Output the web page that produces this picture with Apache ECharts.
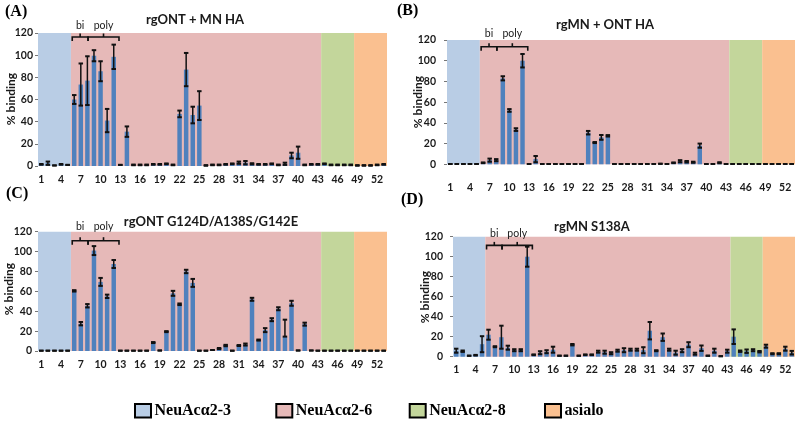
<!DOCTYPE html>
<html><head><meta charset="utf-8">
<script src="https://cdn.jsdelivr.net/npm/echarts@6/dist/echarts.min.js"></script>
<style>html,body{margin:0;padding:0;background:#fff}#c{width:800px;height:423px}</style>
</head><body><div id="c"></div>
<script>
// ---------- data ----------
const glycans = ['1','2','3','4','5','6','7','8','9','10','11','12','13','14','15','16','17','18','19','20','21','22','23','24','25','26','27','28','29','30','31','32','33','34','35','36','37','38','39','40','41','42','43','44','45','46','47','48','49','50','51','52','53'];
const yTicks = [0, 120, 20];               // min, max, interval
const bandNames  = ['NeuAcα2-3', 'NeuAcα2-6', 'NeuAcα2-8', 'asialo'];
const bandFirst  = [1, 6, 44, 49];          // first glycan of each linkage group
const bandLast   = [5, 43, 48, 53];         // last glycan of each linkage group
const bandColors = ['#B9CDE5', '#E6B9B8', '#C3D69B', '#FAC090'];
const bracketNames = ['bi', 'poly'];
const bracketEdges = [5.2, 7.6, 12.3];      // brace ends / junction, in glycan-slot units

const panelLetters = ['(A)', '(B)', '(C)', '(D)'];
const panelTitles  = ['rgONT + MN HA', 'rgMN + ONT HA', 'rgONT G124D/A138S/G142E', 'rgMN S138A'];

const valsA = [1.5,2.5,0.5,1.5,1, 60,73.5,77,99.5,85.5,41,98.5,1,31, 1,1,1,1.5,1.5,2,1, 47,87,46,54.5, 0.5,1,1,1.5,2,3,3,2,1.5,1.5,2,1,2,9.5,12,1,1.5,1.5, 2,1,1,1,1, 0.5,0.5,0.5,1,1.5];
const errA  = [0.3,1.5,0,0.3,0, 4,19,22,5,9,10.5,11,0,4.7, 0.3,0.3,0.3,0.3,0.3,0.3,0.3, 3,15,7.5,13, 0.3,0.3,0.3,0.3,0.3,1,1.5,0.5,0.3,0.3,0.3,0.3,1,2.5,5.5,0.3,0.3,0.3, 0.3,0.3,0.3,0.3,0.3, 0.3,0.3,0.3,0.3,0.3];

const valsB = [0.3,0.3,0.3,0.3,0.3, 1.5,4,4,83,52,33.5,100,0.3,5, 0.3,0.3,0.3,0.3,0.3,0.3,0.3, 30.5,21,26,27.5, 0.3,0.3,0.3,0.3,0.3,0.3,0.3,0.5,0.3,1.5,3,2.5,2,18,0.3,0.3,1.5,0.3, 0.3,0.3,0.3,0.3,0.3, 0.3,0.3,0.3,0.3,0.3];
const errB  = [0,0,0,0,0, 0.3,1.5,1,2,1.3,1.3,6.5,0,3, 0,0,0,0,0,0,0, 1.7,0.5,2.3,0.7, 0,0,0,0,0,0,0,0,0,0.3,1,0.7,0.5,2,0,0,0.5,0, 0,0,0,0,0, 0,0,0,0,0];

const valsC = [0.3,0.3,0.3,0.3,0.3, 60.5,27.5,45.5,101,69.5,55,87.5,0.3,0.3, 0.3,0.3,0.3,8.5,0.5,19.5,58, 47,80,68.5,0.3, 0.3,1,2.5,5.5,0.3,5.5,6.5,52,11,21,31.5,42.5,14.5,48,0.5,27,0.5,0.3, 0.3,0.3,0.3,0.3,0.3, 0.3,0.3,0.3,0.3,0.3];
const errC  = [0,0,0,0,0, 0.7,1.7,1.7,4.5,4,1.7,4,0,0, 0,0,0,0.5,0,0.5,2.5, 0.8,1.7,4,0, 0,0,0.5,0.7,0,0.5,1,1.5,0.5,2,1.5,1.5,[0,17],2.5,0,1.5,0,0, 0,0,0,0,0, 0,0,0,0,0];

const valsD = [6,5.5,1,1.5,12.5, 22,10,19.5,9,6.5,6.5,100,2,4, 5,7,1,1,12,1,2, 2,5,4.5,3.5, 6,6.5,7,7,6.5,26,6,19.5,7,4,6,12,3,8.5,1,6,0.5,5.5, 20,5.5,5.5,6.5,5, 10.5,3,3,8,4];
const errD  = [2,0.7,0,0.3,8, 5,0.5,11.5,2,1,1,10,0.3,1.5, 1.5,3,0,0,0.7,0,0.3, 0.3,1,1.5,1, 1,2,1,1,3,8.7,0.5,3.7,1,2,1.5,2.5,1,2.7,0,2,0,1.5, 7.3,0.7,1.7,1,0.7, 1.5,0.5,0.5,2,1.8];

const panelVals = [valsA, valsB, valsC, valsD];
const panelErrs = [errA, errB, errC, errD];

// ---------- layout ----------
const grids = [
  {left: 38,  top: 33,    width: 349, height: 133},
  {left: 447, top: 40,    width: 348, height: 124.3},
  {left: 38,  top: 231.7, width: 349, height: 119.3},
  {left: 453, top: 236.7, width: 342, height: 120}
];
const xLabelMargin = [8, 18, 8, 7];
const yLabelMargin = [5, 11, 6, 10];
const bracketDy = [4, 6.7, 9, 8.7];      // brace line below plot top
const bracketLabelDy = [-7, -6, -5, -3.5];
const letterPos = [[5, 12], [397, 11], [6, 193.5], [401, 200]];
const titlePos  = [[195, 20], [605, 25], [211, 221.5], [592, 227]];
const yNamePos  = [[11, 99], [418, 102], [9, 289], [425, 297]];

const BAR = '#4F81BD';
const TXT = '#1a1a1a';
const sans = 'Lato, "Open Sans", sans-serif';
const serif = '"Liberation Serif", "DejaVu Serif", serif';

const option = {
  animation: false,
  backgroundColor: '#fff',
  grid: grids.map(g => Object.assign({containLabel: false}, g)),
  xAxis: [], yAxis: [], series: [], graphic: []
};

grids.forEach((g, i) => {
  // category axis for bars
  option.xAxis.push({
    type: 'category', gridIndex: i, data: glycans,
    axisLine: {show: false}, axisTick: {show: false},
    axisLabel: {interval: 2, margin: xLabelMargin[i], color: TXT, fontFamily: sans, fontWeight: 'bold', fontSize: 10.5}
  });
  // continuous slot axis (0..53) for background bands and braces
  option.xAxis.push({type: 'value', gridIndex: i, min: 0, max: glycans.length, show: false});
  option.yAxis.push({
    type: 'value', gridIndex: i, min: yTicks[0], max: yTicks[1], interval: yTicks[2],
    axisLine: {show: false},
    axisTick: {show: true, length: 3, lineStyle: {color: '#777'}},
    splitLine: {show: false},
    axisLabel: {margin: yLabelMargin[i], color: TXT, fontFamily: sans, fontWeight: 'bold', fontSize: 10.5}
  });
  const xc = 2 * i, xv = 2 * i + 1;

  // linkage-group bands
  option.series.push({
    type: 'custom', xAxisIndex: xv, yAxisIndex: i, z: 0, silent: true,
    data: bandFirst.map((f, k) => [f - 1, bandLast[k], k]),
    renderItem: (params, api) => {
      const p0 = api.coord([api.value(0), yTicks[1]]);
      const p1 = api.coord([api.value(1), yTicks[0]]);
      return {type: 'rect', shape: {x: p0[0], y: p0[1], width: p1[0] - p0[0], height: p1[1] - p0[1]},
              style: {fill: bandColors[api.value(2)]}};
    }
  });

  // bars
  option.series.push({
    type: 'bar', xAxisIndex: xc, yAxisIndex: i, z: 2,
    data: panelVals[i], barWidth: '68%', itemStyle: {color: BAR}
  });

  // error bars
  option.series.push({
    type: 'custom', xAxisIndex: xc, yAxisIndex: i, z: 3, silent: true,
    data: panelVals[i].map((v, k) => {
      const e = panelErrs[i][k];
      const dn = Array.isArray(e) ? e[0] : e, up = Array.isArray(e) ? e[1] : e;
      return [k, v, dn, up];
    }),
    renderItem: (params, api) => {
      const x = api.value(0), v = api.value(1);
      const top = api.coord([x, v + api.value(3)]);
      const bot = api.coord([x, Math.max(0, v - api.value(2))]);
      const hw = api.size([1, 0])[0] * 0.34;
      const st = {stroke: '#111', lineWidth: 2};
      return {type: 'group', children: [
        {type: 'line', shape: {x1: top[0], y1: top[1], x2: bot[0], y2: bot[1]}, style: {stroke: '#111', lineWidth: 1.5}},
        {type: 'line', shape: {x1: top[0] - hw, y1: top[1], x2: top[0] + hw, y2: top[1]}, style: st},
        {type: 'line', shape: {x1: bot[0] - hw, y1: bot[1], x2: bot[0] + hw, y2: bot[1]}, style: st}
      ]};
    }
  });

  // braces "bi" / "poly"
  option.series.push({
    type: 'custom', xAxisIndex: xv, yAxisIndex: i, z: 4, silent: true,
    data: [[bracketEdges[0], bracketEdges[1], 0], [bracketEdges[1], bracketEdges[2], 1]],
    renderItem: (params, api) => {
      const a = api.coord([api.value(0), yTicks[1]]);
      const b = api.coord([api.value(1), yTicks[1]]);
      const y = a[1] + bracketDy[i];
      const m = (a[0] + b[0]) / 2;
      const st = {stroke: '#111', lineWidth: 1.6, fill: null};
      return {type: 'group', children: [
        {type: 'polyline', shape: {points: [[a[0], y + 4], [a[0], y], [b[0], y], [b[0], y + 4]]}, style: st},
        {type: 'line', shape: {x1: m, y1: y, x2: m, y2: y - 3.5}, style: st},
        {type: 'text', x: m, y: a[1] + bracketLabelDy[i],
         style: {text: bracketNames[api.value(2)], align: 'center', verticalAlign: 'middle',
                 font: '10.5px ' + sans, fill: TXT}}
      ]};
    }
  });

  // panel letter, title, y name
  option.graphic.push({type: 'text', x: letterPos[i][0], y: letterPos[i][1],
    style: {text: panelLetters[i], font: 'bold 16px ' + serif, fill: '#000', align: 'left', verticalAlign: 'middle'}});
  option.graphic.push({type: 'text', x: titlePos[i][0], y: titlePos[i][1],
    style: {text: panelTitles[i], font: 'bold 13px ' + sans, fill: TXT, align: 'center', verticalAlign: 'middle'}});
  option.graphic.push({type: 'text', x: yNamePos[i][0], y: yNamePos[i][1], rotation: Math.PI / 2,
    style: {text: '% binding', font: 'bold 12px ' + sans, fill: TXT, align: 'center', verticalAlign: 'middle'}});
});

// legend of linkage groups
const legendX = [134, 275.3, 408.7, 544];
bandNames.forEach((n, k) => {
  option.graphic.push({type: 'rect', shape: {x: legendX[k] + 1, y: 404, width: 16, height: 13.5},
    style: {fill: bandColors[k], stroke: '#000', lineWidth: 2}});
  option.graphic.push({type: 'text', x: legendX[k] + 20.5, y: 411,
    style: {text: n, font: 'bold 16px ' + serif, fill: '#000', align: 'left', verticalAlign: 'middle'}});
});

const chart = echarts.init(document.getElementById('c'), null, {renderer: 'canvas'});
chart.setOption(option);
</script></body></html>
